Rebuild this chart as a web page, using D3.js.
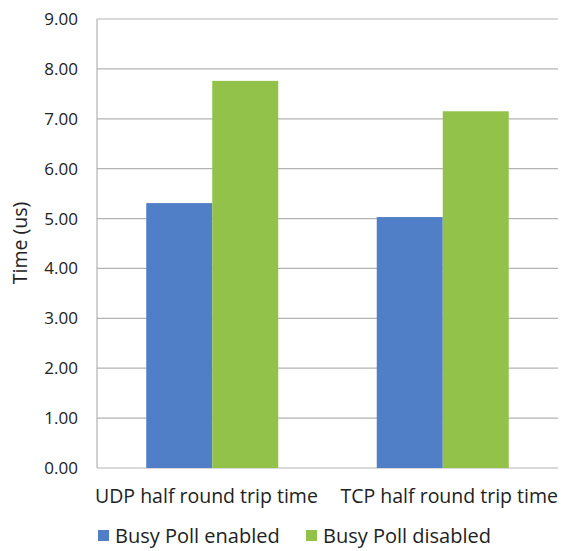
<!DOCTYPE html>
<html>
<head>
<meta charset="utf-8">
<script src="https://cdn.jsdelivr.net/npm/d3@7"></script>
<style>
  body { margin: 0; background: #fff; }
  text { font-family: "Open Sans", sans-serif; fill: #222; }
</style>
</head>
<body>
<div id="vis"></div>
<script>
const categories = ["UDP half round trip time", "TCP half round trip time"];
const seriesNames = ["Busy Poll enabled", "Busy Poll disabled"];
const enabledVals = [5.31, 5.03];
const disabledVals = [7.76, 7.15];
const yTicks = [0, 1, 2, 3, 4, 5, 6, 7, 8, 9];

const colors = ["#517fc7", "#93c24a"];
const W = 563, H = 551;
const margin = { top: 19, right: 5, bottom: 83, left: 97 };
const width = W - margin.left - margin.right;
const height = H - margin.top - margin.bottom;

var svg = d3.select("#vis").append("svg").attr("width", W).attr("height", H);
var g = svg.append("g").attr("transform", `translate(${margin.left},${margin.top})`);

var x = d3.scaleBand().domain(categories).range([0, width]).paddingInner(0).paddingOuter(0);
var xInner = d3.scaleBand().domain(seriesNames).range([0, 132]);
var y = d3.scaleLinear().domain([0, 9]).range([height, 0]);

// gridlines
g.selectAll(".grid")
  .data(yTicks)
  .join("line")
  .attr("x1", 0).attr("x2", width)
  .attr("y1", d => y(d)).attr("y2", d => y(d))
  .attr("stroke", "#b3b3b3").attr("stroke-width", 1.2);

// left axis line
g.append("line").attr("x1", 0).attr("x2", 0).attr("y1", 0).attr("y2", height)
  .attr("stroke", "#b3b3b3").attr("stroke-width", 1.2);

// tick labels
g.selectAll(".ytick")
  .data(yTicks)
  .join("text")
  .attr("x", -19).attr("y", d => y(d)).attr("dy", "0.35em")
  .attr("text-anchor", "end").attr("font-size", 17)
  .text(d => d3.format(".2f")(d));

// bars
const rows = categories.map((c, i) => ({ cat: c, vals: [enabledVals[i], disabledVals[i]] }));
const groups = g.selectAll(".cat")
  .data(rows)
  .join("g")
  .attr("transform", d => `translate(${x(d.cat) + x.bandwidth() / 2 - 66},0)`);

groups.selectAll("rect")
  .data(d => d.vals.map((v, j) => ({ s: seriesNames[j], v: v, j: j })))
  .join("rect")
  .attr("x", d => xInner(d.s))
  .attr("width", xInner.bandwidth())
  .attr("y", d => y(d.v))
  .attr("height", d => height - y(d.v))
  .attr("fill", d => colors[d.j]);

// category labels (first starts at plot left, last ends at plot right, like the original)
g.selectAll(".xlab")
  .data(categories)
  .join("text")
  .attr("x", (d, i) => i === 0 ? -2 : width)
  .attr("y", height + 35)
  .attr("text-anchor", (d, i) => i === 0 ? "start" : "end")
  .attr("font-size", 19.5)
  .text(d => d);

// y axis title
svg.append("text")
  .attr("transform", `translate(27,243) rotate(-90)`)
  .attr("text-anchor", "middle").attr("font-size", 19.5)
  .text("Time (us)");

// legend
const legendX = [98, 306];
const legend = svg.selectAll(".leg")
  .data(seriesNames)
  .join("g")
  .attr("transform", (d, i) => `translate(${legendX[i]},${H - 15})`);
legend.append("rect").attr("x", 0).attr("y", -6).attr("width", 11).attr("height", 11)
  .attr("fill", (d, i) => colors[i]);
legend.append("text").attr("x", 17).attr("y", 0).attr("dy", "0.35em")
  .attr("font-size", 20).text(d => d);
</script>
</body>
</html>
